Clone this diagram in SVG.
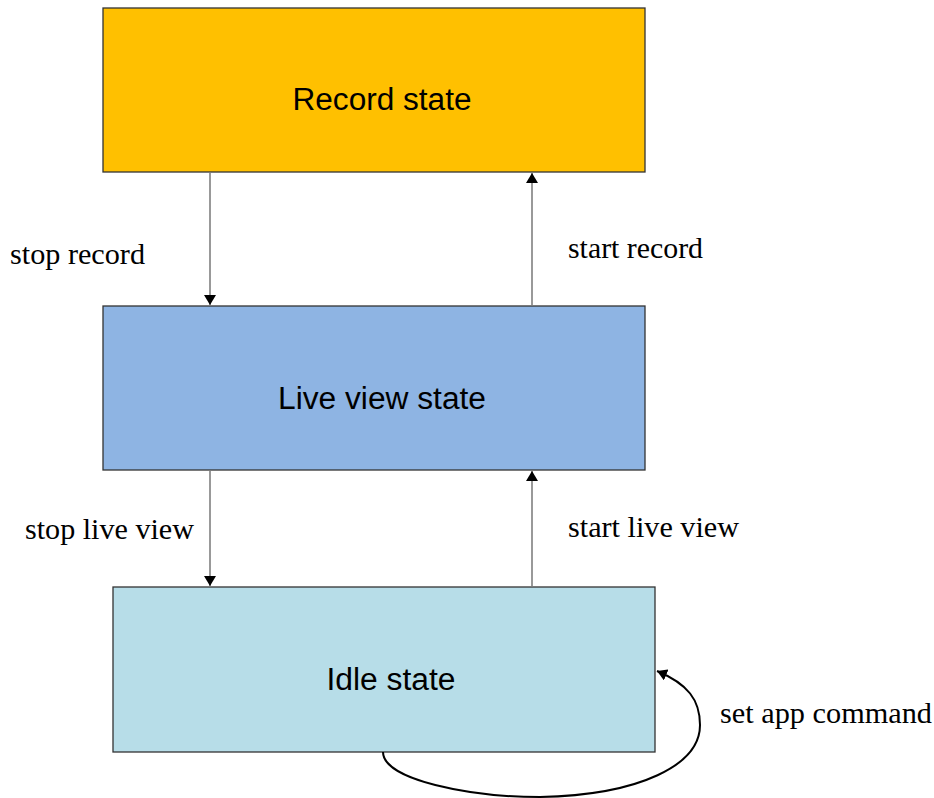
<svg xmlns="http://www.w3.org/2000/svg" width="934" height="798" viewBox="0 0 934 798">
<style>
.box{stroke:#333;stroke-width:1.3}
.lbl{font-family:"Liberation Sans",Arial,sans-serif;font-size:31px;fill:#000;text-anchor:middle}
.ed{font-family:"Liberation Serif","Times New Roman",serif;font-size:30px;fill:#000}
.ln{stroke:#555;stroke-width:1.2;fill:none}
</style>
<defs>
<marker id="ah" markerWidth="10" markerHeight="12" refX="10" refY="6" orient="auto" markerUnits="userSpaceOnUse">
<path d="M0,0 L10,6 L0,12 z" fill="#000"/>
</marker>
</defs>
<rect width="934" height="798" fill="#fff"/>
<g id="record">
<rect class="box" x="103" y="8" width="542" height="164" fill="#FFC000"/>
<text class="lbl" x="382" y="110" textLength="179" lengthAdjust="spacingAndGlyphs">Record state</text>
</g>
<g id="liveview">
<rect class="box" x="103" y="306" width="542" height="164" fill="#8EB4E3"/>
<text class="lbl" x="382" y="409" textLength="208" lengthAdjust="spacingAndGlyphs">Live view state</text>
</g>
<g id="idle">
<rect class="box" x="113" y="587" width="542" height="165" fill="#B7DDE8"/>
<text class="lbl" x="391" y="690" textLength="129" lengthAdjust="spacingAndGlyphs">Idle state</text>
</g>
<g id="connectors">
<line class="ln" x1="210" y1="173" x2="210" y2="305" marker-end="url(#ah)"/>
<line class="ln" x1="532" y1="305" x2="532" y2="173" marker-end="url(#ah)"/>
<line class="ln" x1="210" y1="471" x2="210" y2="586" marker-end="url(#ah)"/>
<line class="ln" x1="532" y1="586" x2="532" y2="471" marker-end="url(#ah)"/>
<path d="M383,752 C383,780 470,797 540,797 C640,795 700,765 700,725 C700,700 688,684 657,671" fill="none" stroke="#000" stroke-width="2" marker-end="url(#ah)"/>
<text class="ed" x="10" y="264" textLength="135" lengthAdjust="spacingAndGlyphs">stop record</text>
<text class="ed" x="568" y="258" textLength="135" lengthAdjust="spacingAndGlyphs">start record</text>
<text class="ed" x="25" y="539" textLength="169" lengthAdjust="spacingAndGlyphs">stop live view</text>
<text class="ed" x="568" y="537" textLength="171" lengthAdjust="spacingAndGlyphs">start live view</text>
<text class="ed" x="720" y="723" textLength="212" lengthAdjust="spacingAndGlyphs">set app command</text>
</g>
</svg>
